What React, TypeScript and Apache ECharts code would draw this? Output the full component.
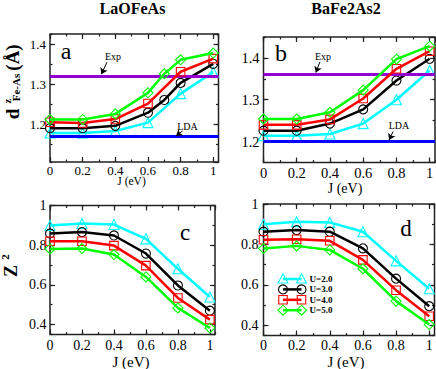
import React, { useEffect, useRef } from 'react';
import * as echarts from 'echarts';

const FONT = '"Liberation Serif", "Times New Roman", Times, serif';
const FRAME = '#222222';

// J (eV) grids
const J_STD = [0, 0.2, 0.4, 0.6, 0.8, 1.0];
const J_FINE = [0, 0.2, 0.4, 0.6, 0.7, 0.8, 1.0];

const U_LABELS = ['U=2.0', 'U=3.0', 'U=4.0', 'U=5.0'];
const U_COLORS = ['#00ffff', '#000000', '#ff0000', '#00ff00'];
const U_SYMBOLS = ['triangle', 'circle', 'rect', 'diamond'];

// (a) LaOFeAs  d^z_Fe-As (Å)
const A_U2 = [1.178, 1.178, 1.183, 1.204, 1.277, 1.331];
const A_U3 = [1.19, 1.19, 1.196, 1.229, 1.261, 1.304, 1.352];
const A_U4 = [1.205, 1.203, 1.213, 1.252, 1.332, 1.365];
const A_U5 = [1.212, 1.212, 1.226, 1.279, 1.327, 1.362, 1.379];
const A_EXP = 1.3175;
const A_LDA = 1.165;

// (b) BaFe2As2  d^z_Fe-As (Å)
const B_U2 = [1.214, 1.214, 1.218, 1.243, 1.3, 1.37];
const B_U3 = [1.226, 1.226, 1.243, 1.277, 1.346, 1.398];
const B_U4 = [1.24, 1.24, 1.253, 1.303, 1.374, 1.416];
const B_U5 = [1.254, 1.254, 1.27, 1.323, 1.397, 1.428];
const B_EXP = 1.356;
const B_LDA = 1.196;

// (c) LaOFeAs  Z^2
const C_U2 = [0.899, 0.909, 0.904, 0.832, 0.681, 0.539];
const C_U3 = [0.859, 0.866, 0.849, 0.758, 0.597, 0.47];
const C_U4 = [0.82, 0.82, 0.798, 0.697, 0.534, 0.425];
const C_U5 = [0.781, 0.783, 0.753, 0.64, 0.484, 0.383];

// (d) BaFe2As2  Z^2
const D_U2 = [0.9, 0.912, 0.909, 0.863, 0.719, 0.581];
const D_U3 = [0.863, 0.871, 0.863, 0.781, 0.631, 0.495];
const D_U4 = [0.823, 0.826, 0.818, 0.724, 0.574, 0.445];
const D_U5 = [0.78, 0.793, 0.773, 0.68, 0.52, 0.404];

const X_MAX = 1.032;

type Panel = {
  grid: { left: number; top: number; width: number; height: number };
  yMin: number; yMax: number; yMajor: number; yMinor: number;
  showMaxY: boolean;
  tickFont: number; xMargin: number; yMargin: number;
  lines: [number[], number[]][];
  refs?: { exp: number; lda: number; expArrow: number[][]; ldaArrow: number[][] };
};

const PANELS: Panel[] = [
  {
    grid: { left: 50, top: 34, width: 168.5, height: 128 },
    yMin: 1.105, yMax: 1.427, yMajor: 0.1, yMinor: 0.05, showMaxY: false,
    tickFont: 13, xMargin: 2, yMargin: 4,
    lines: [[J_STD, A_U2], [J_FINE, A_U3], [J_STD, A_U4], [J_FINE, A_U5]],
    refs: { exp: A_EXP, lda: A_LDA, expArrow: [[0.349, 1.356], [0.315, 1.326]], ldaArrow: [[0.812, 1.183], [0.772, 1.171]] },
  },
  {
    grid: { left: 263.5, top: 37, width: 171.5, height: 125.5 },
    yMin: 1.15, yMax: 1.45, yMajor: 0.1, yMinor: 0.05, showMaxY: false,
    tickFont: 14.5, xMargin: 2.5, yMargin: 4,
    lines: [[J_STD, B_U2], [J_STD, B_U3], [J_STD, B_U4], [J_STD, B_U5]],
    refs: { exp: B_EXP, lda: B_LDA, expArrow: [[0.339, 1.39], [0.315, 1.365]], ldaArrow: [[0.78, 1.224], [0.756, 1.204]] },
  },
  {
    grid: { left: 50, top: 205.5, width: 165, height: 129 },
    yMin: 0.35, yMax: 1.0, yMajor: 0.2, yMinor: 0.1, showMaxY: true,
    tickFont: 14, xMargin: 3.5, yMargin: 3.5,
    lines: [[J_STD, C_U2], [J_STD, C_U3], [J_STD, C_U4], [J_STD, C_U5]],
  },
  {
    grid: { left: 263.5, top: 204, width: 171, height: 131.5 },
    yMin: 0.35, yMax: 1.0, yMajor: 0.2, yMinor: 0.1, showMaxY: true,
    tickFont: 14, xMargin: 2.5, yMargin: 5,
    lines: [[J_STD, D_U2], [J_STD, D_U3], [J_STD, D_U4], [J_STD, D_U5]],
  },
];

function axisSet(dim: 'x' | 'y', g: number, min: number, max: number, major: number, minor: number, label: any) {
  const pos = dim === 'x' ? ['bottom', 'top'] : ['left', 'right'];
  const mk = (position: string, interval: number, len: number, withLabel: boolean) => ({
    type: 'value',
    gridIndex: g,
    position,
    min,
    max,
    minInterval: interval,
    maxInterval: interval,
    splitNumber: Math.round((max - min) / interval),
    silent: true,
    axisLine: { show: false, onZero: false },
    splitLine: { show: false },
    splitArea: { show: false },
    axisTick: { show: true, inside: true, length: len, lineStyle: { color: FRAME, width: 1.2 } },
    axisLabel: withLabel ? label : { show: false },
  });
  return [
    mk(pos[0], major, 5, true),
    mk(pos[0], minor, 2.5, false),
    mk(pos[1], major, 5, false),
    mk(pos[1], minor, 2.5, false),
  ];
}

function tickLabel(size: number, margin: number, showMin: boolean, showMax: boolean) {
  return {
    show: true,
    fontSize: size,
    fontFamily: FONT,
    color: '#000',
    margin,
    showMinLabel: showMin,
    showMaxLabel: showMax,
    formatter: (v: number) => '{t|' + String(+v.toFixed(4)) + '}',
    rich: { t: { fontSize: size, fontFamily: FONT, color: '#000' } },
  };
}

function txt(x: number, y: number, text: string, size: number, weight = 'normal', align = 'center', extra: any = {}) {
  return {
    type: 'text',
    x,
    y,
    silent: true,
    style: {
      text,
      fill: '#000',
      fontSize: size,
      fontFamily: FONT,
      fontWeight: weight,
      align,
      textAlign: align,
      verticalAlign: 'middle',
      textVerticalAlign: 'middle',
    },
    ...extra,
  };
}

function buildOption() {
  const grids: any[] = [];
  const xAxes: any[] = [];
  const yAxes: any[] = [];
  const series: any[] = [];

  PANELS.forEach((p, g) => {
    grids.push({
      ...p.grid,
      show: true,
      borderColor: FRAME,
      borderWidth: 1.5,
      backgroundColor: 'transparent',
      containLabel: false,
      outerBoundsMode: 'none',
    });
    xAxes.push(...axisSet('x', g, 0, X_MAX, 0.2, 0.1, tickLabel(p.tickFont, p.xMargin, true, false)));
    yAxes.push(...axisSet('y', g, p.yMin, p.yMax, p.yMajor, p.yMinor, tickLabel(p.tickFont, p.yMargin, false, p.showMaxY)));
    p.lines.forEach(([xs, ys], k) => {
      const s: any = {
        type: 'line',
        name: U_LABELS[k],
        xAxisIndex: 4 * g,
        yAxisIndex: 4 * g,
        data: xs.map((x, i) => [x, ys[i]]),
        symbol: U_SYMBOLS[k],
        symbolSize: k === 1 ? 9 : k === 2 ? 8.5 : 10,
        showSymbol: true,
        silent: true,
        z: 3 + k,
        lineStyle: { color: U_COLORS[k], width: 2.5 },
        itemStyle: { color: 'rgba(0,0,0,0)', borderColor: U_COLORS[k], borderWidth: 1.1 },
        emphasis: { disabled: true },
      };
      if (k === 0 && p.refs) {
        const r = p.refs;
        const arrowStyle = { color: '#000', width: 1, type: 'solid' };
        s.markLine = {
          silent: true,
          symbol: ['none', 'none'],
          label: { show: false },
          emphasis: { disabled: true },
          data: [
            { yAxis: r.exp, lineStyle: { color: '#9400d3', width: 3, type: 'solid' } },
            { yAxis: r.lda, lineStyle: { color: '#0000ff', width: 3, type: 'solid' } },
            [
              { coord: r.expArrow[0], symbol: 'none', lineStyle: arrowStyle },
              { coord: r.expArrow[1], symbol: 'arrow', symbolSize: 6 },
            ],
            [
              { coord: r.ldaArrow[0], symbol: 'none', lineStyle: arrowStyle },
              { coord: r.ldaArrow[1], symbol: 'arrow', symbolSize: 6 },
            ],
          ],
        };
      }
      series.push(s);
    });
  });

  // legend drawn inside panel (d)
  const legendEls: any[] = [];
  const lx0 = 283;
  const lx1 = 301.5;
  U_LABELS.forEach((lab, k) => {
    const y = 279 + k * 10.4;
    const c = U_COLORS[k];
    legendEls.push({ type: 'line', silent: true, shape: { x1: lx0, y1: y, x2: lx1, y2: y }, style: { stroke: c, lineWidth: 2.5 } });
    [lx0, lx1].forEach((cx) => {
      const st = { stroke: c, fill: 'none', lineWidth: 1.1 };
      if (k === 0) legendEls.push({ type: 'polygon', silent: true, shape: { points: [[cx, y - 5], [cx - 5, y + 4], [cx + 5, y + 4]] }, style: st });
      else if (k === 1) legendEls.push({ type: 'circle', silent: true, shape: { cx, cy: y, r: 4.5 }, style: st });
      else if (k === 2) legendEls.push({ type: 'rect', silent: true, shape: { x: cx - 4.25, y: y - 4.25, width: 8.5, height: 8.5 }, style: st });
      else legendEls.push({ type: 'polygon', silent: true, shape: { points: [[cx, y - 5], [cx + 5, y], [cx, y + 5], [cx - 5, y]] }, style: st });
    });
    legendEls.push(txt(309.5, y, lab, 9, 'bold', 'left'));
  });

  const graphic: any[] = [
    txt(132.5, 8, 'LaOFeAs', 16, 'bold'),
    txt(346, 8, 'BaFe2As2', 16, 'bold'),
    txt(66, 51, 'a', 24),
    txt(281, 53, 'b', 24),
    txt(185, 232, 'c', 23),
    txt(406, 228, 'd', 23),
    txt(113, 56.5, 'Exp', 10),
    txt(187.5, 126, 'LDA', 10),
    txt(323, 56, 'Exp', 10),
    txt(399, 125.5, 'LDA', 10),
    txt(131.5, 180.5, 'J (eV)', 11.5),
    txt(345, 188, 'J (eV)', 14),
    txt(131, 361.5, 'J (eV)', 15),
    txt(346, 361.5, 'J (eV)', 15),
    {
      type: 'group',
      x: 12.5,
      y: 120,
      rotation: Math.PI / 2,
      silent: true,
      children: [
        txt(6, 0, 'd', 19, 'bold'),
        txt(19, -6, 'z', 11, 'bold'),
        txt(32.5, 3.5, 'Fe-As', 11, 'bold'),
        txt(62.5, 0, '(Å)', 19, 'bold'),
      ],
    },
    {
      type: 'group',
      x: 11,
      y: 280,
      rotation: Math.PI / 2,
      silent: true,
      children: [
        txt(9, 0, 'Z', 18, 'bold'),
        txt(23, -6, '2', 11, 'bold'),
      ],
    },
    ...legendEls,
  ];

  return {
    animation: false,
    backgroundColor: '#ffffff',
    textStyle: { fontFamily: FONT },
    grid: grids,
    xAxis: xAxes,
    yAxis: yAxes,
    series,
    graphic,
  };
}

export default function App() {
  const ref = useRef<HTMLDivElement>(null);
  useEffect(() => {
    if (!ref.current) return;
    const chart = echarts.init(ref.current, undefined, { renderer: 'svg' });
    chart.setOption(buildOption() as any);
    return () => chart.dispose();
  }, []);
  return (
    <div
      ref={ref}
      style={{ position: 'absolute', left: 0, top: 0, width: 436, height: 369, background: '#fff' }}
    />
  );
}
